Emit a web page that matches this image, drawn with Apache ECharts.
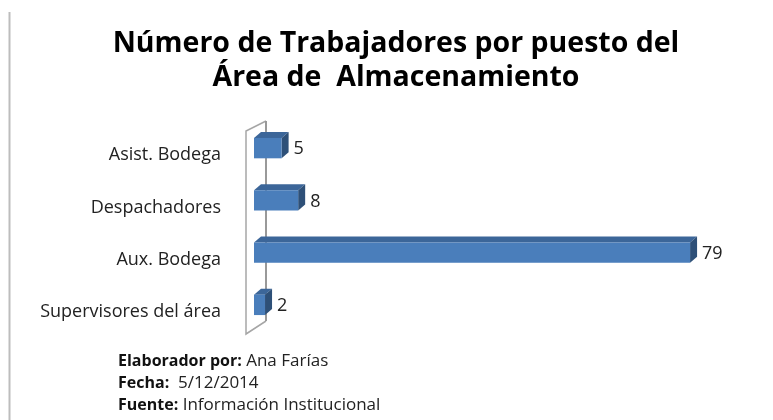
<!DOCTYPE html>
<html>
<head>
<meta charset="utf-8">
<script src="https://cdn.jsdelivr.net/npm/echarts@6/dist/echarts.min.js"></script>
<style>
  html, body { margin: 0; padding: 0; background: #fff; }
  #chart { width: 773px; height: 420px; }
</style>
</head>
<body>
<div id="chart"></div>
<script>
  const categories = ['Asist. Bodega', 'Despachadores', 'Aux. Bodega', 'Supervisores del área'];
  const workers = [5, 8, 79, 2];
  const titleText = 'Número de Trabajadores por puesto del\nÁrea de  Almacenamiento';
  const footerLines = [
    ['Elaborador por:', ' Ana Farías'],
    ['Fecha:', '  5/12/2014'],
    ['Fuente:', ' Información Institucional']
  ];

  const FONT = '"Open Sans", sans-serif';
  const DX = 7, DY = -6; // 3D depth offset

  const chart = echarts.init(document.getElementById('chart'), null, { renderer: 'canvas' });

  function renderBar(params, api) {
    const cat = api.value(1);
    const v = api.value(0);
    const p0 = api.coord([0, cat]);
    const p1 = api.coord([v, cat]);
    const h = api.size([0, 1])[1] * 0.39;
    const x = p0[0], y = p0[1] - h / 2, w = p1[0] - p0[0];
    return {
      type: 'group',
      children: [
        { type: 'polygon', shape: { points: [[x, y], [x + DX, y + DY], [x + w + DX, y + DY], [x + w, y]] },
          style: { fill: '#3c6699' } },
        { type: 'polygon', shape: { points: [[x + w, y], [x + w + DX, y + DY], [x + w + DX, y + h + DY], [x + w, y + h]] },
          style: { fill: '#2e5078' } },
        { type: 'rect', shape: { x: x, y: y, width: w, height: h },
          style: { fill: '#4a7ebb' } },
        { type: 'text', x: x + w + DX + 5, y: p0[1] + 1,
          style: { text: String(v), font: '18px ' + FONT, fill: '#222', verticalAlign: 'middle', align: 'left' } }
      ]
    };
  }

  function renderWall(params) {
    const cs = params.coordSys;
    const l = cs.x, t = cs.y, b = cs.y + cs.height;
    const st = { stroke: '#a6a6a6', lineWidth: 1.5, fill: null };
    return {
      type: 'group',
      children: [
        { type: 'polyline', shape: { points: [[l + 12, t - 1], [l - 8, t + 9], [l - 8, b + 3], [l + 12, b - 10]] }, style: st },
        { type: 'line', shape: { x1: l + 12, y1: t - 1, x2: l + 12, y2: b - 10 }, style: { stroke: '#999', lineWidth: 2 } }
      ]
    };
  }

  const footerGraphics = footerLines.map((ln, i) => ({
    type: 'text',
    x: 118,
    y: 361 + i * 22,
    style: {
      text: '{b|' + ln[0] + '}{n|' + ln[1] + '}',
      verticalAlign: 'middle',
      rich: {
        b: { font: 'bold 16px ' + FONT, fill: '#111' },
        n: { font: '17px ' + FONT, fill: '#222' }
      }
    }
  }));

  const option = {
    animation: false,
    grid: { left: 254, top: 122, height: 209, width: 441.6 },
    xAxis: { type: 'value', min: 0, max: 80, show: false },
    yAxis: {
      type: 'category',
      data: categories,
      inverse: true,
      axisLine: { show: false },
      axisTick: { show: false },
      axisLabel: { margin: 33, fontFamily: FONT, fontSize: 18, color: '#222', verticalAlign: 'top', lineHeight: 14 }
    },
    series: [
      { type: 'custom', renderItem: renderWall, data: [[0, 0]], silent: true, z: 1 },
      {
        type: 'custom',
        renderItem: renderBar,
        encode: { x: 0, y: 1 },
        data: workers.map((v, i) => [v, i]),
        z: 2
      }
    ],
    graphic: [
      { type: 'line', shape: { x1: 9.5, y1: 12, x2: 9.5, y2: 420 }, style: { stroke: '#bdbdbd', lineWidth: 2 } },
      {
        type: 'text', x: 396, y: 61,
        style: {
          text: titleText, align: 'center', verticalAlign: 'middle',
          font: 'bold 28.5px ' + FONT, lineHeight: 34, fill: '#000'
        }
      }
    ].concat(footerGraphics)
  };

  chart.setOption(option);
</script>
</body>
</html>
